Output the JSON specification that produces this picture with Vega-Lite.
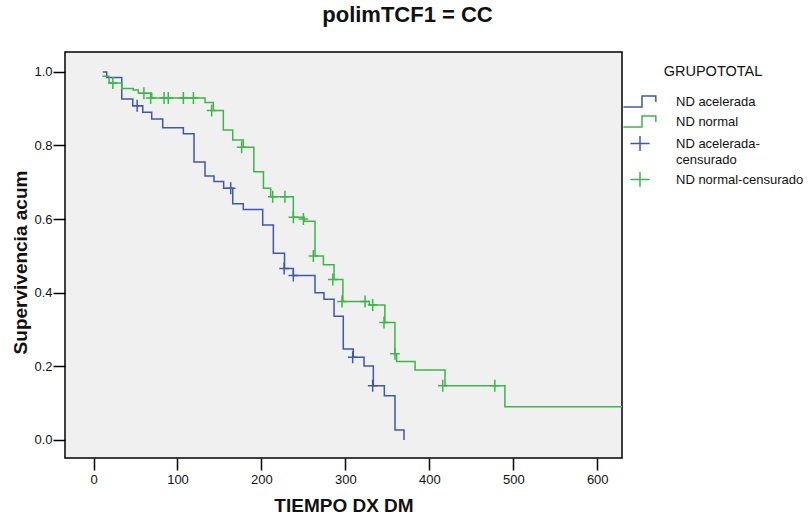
{
  "$schema": "https://vega.github.io/schema/vega-lite/v6.json",
  "width": 557,
  "height": 406,
  "autosize": {"type": "none"},
  "padding": {"left": 65, "top": 52, "right": 187, "bottom": 63},
  "background": "white",
  "title": {"text": "polimTCF1 = CC", "fontSize": 22, "fontWeight": "bold", "font": "Liberation Sans", "color": "#111111", "dx": 64, "offset": 25, "anchor": "middle"},
  "config": {
    "view": {"fill": "#F0F0F0", "stroke": "#000000", "strokeWidth": 1.5},
    "font": "Liberation Sans",
    "axis": {"domain": false, "grid": false, "tickColor": "#000000", "tickWidth": 1.5, "tickSize": 12, "labelFont": "Liberation Sans", "labelFontSize": 13, "labelColor": "#111111", "titleFont": "Liberation Sans", "titleFontSize": 19, "titleFontWeight": "bold", "titleColor": "#111111"}
  },
  "datasets": {
    "curves": [
      {"t": 11, "s": 1.0, "g": "ND acelerada"},
      {"t": 15.7, "s": 0.985, "g": "ND acelerada"},
      {"t": 33.6, "s": 0.926, "g": "ND acelerada"},
      {"t": 46.7, "s": 0.908, "g": "ND acelerada"},
      {"t": 58.6, "s": 0.89, "g": "ND acelerada"},
      {"t": 69.3, "s": 0.872, "g": "ND acelerada"},
      {"t": 82.4, "s": 0.848, "g": "ND acelerada"},
      {"t": 107, "s": 0.832, "g": "ND acelerada"},
      {"t": 119.7, "s": 0.755, "g": "ND acelerada"},
      {"t": 132.8, "s": 0.717, "g": "ND acelerada"},
      {"t": 143.5, "s": 0.702, "g": "ND acelerada"},
      {"t": 155, "s": 0.684, "g": "ND acelerada"},
      {"t": 165.8, "s": 0.642, "g": "ND acelerada"},
      {"t": 178.4, "s": 0.626, "g": "ND acelerada"},
      {"t": 201.5, "s": 0.584, "g": "ND acelerada"},
      {"t": 214.2, "s": 0.507, "g": "ND acelerada"},
      {"t": 227.5, "s": 0.466, "g": "ND acelerada"},
      {"t": 238, "s": 0.447, "g": "ND acelerada"},
      {"t": 263.8, "s": 0.4, "g": "ND acelerada"},
      {"t": 274.5, "s": 0.382, "g": "ND acelerada"},
      {"t": 286.5, "s": 0.336, "g": "ND acelerada"},
      {"t": 297.5, "s": 0.247, "g": "ND acelerada"},
      {"t": 309.4, "s": 0.225, "g": "ND acelerada"},
      {"t": 322.2, "s": 0.201, "g": "ND acelerada"},
      {"t": 333.3, "s": 0.147, "g": "ND acelerada"},
      {"t": 346.4, "s": 0.12, "g": "ND acelerada"},
      {"t": 359.1, "s": 0.027, "g": "ND acelerada"},
      {"t": 369.8, "s": 0.0, "g": "ND acelerada"},
      {"t": 10.5, "s": 0.988, "g": "ND normal"},
      {"t": 18.5, "s": 0.97, "g": "ND normal"},
      {"t": 33.6, "s": 0.955, "g": "ND normal"},
      {"t": 47.3, "s": 0.951, "g": "ND normal"},
      {"t": 53.3, "s": 0.942, "g": "ND normal"},
      {"t": 69.3, "s": 0.929, "g": "ND normal"},
      {"t": 132.8, "s": 0.917, "g": "ND normal"},
      {"t": 142.7, "s": 0.895, "g": "ND normal"},
      {"t": 154.6, "s": 0.842, "g": "ND normal"},
      {"t": 165.8, "s": 0.815, "g": "ND normal"},
      {"t": 178.4, "s": 0.795, "g": "ND normal"},
      {"t": 191, "s": 0.729, "g": "ND normal"},
      {"t": 202.4, "s": 0.684, "g": "ND normal"},
      {"t": 211, "s": 0.661, "g": "ND normal"},
      {"t": 238, "s": 0.605, "g": "ND normal"},
      {"t": 251, "s": 0.594, "g": "ND normal"},
      {"t": 263.8, "s": 0.5, "g": "ND normal"},
      {"t": 273.8, "s": 0.476, "g": "ND normal"},
      {"t": 286.5, "s": 0.436, "g": "ND normal"},
      {"t": 297, "s": 0.376, "g": "ND normal"},
      {"t": 328.5, "s": 0.367, "g": "ND normal"},
      {"t": 347, "s": 0.319, "g": "ND normal"},
      {"t": 359, "s": 0.234, "g": "ND normal"},
      {"t": 361, "s": 0.213, "g": "ND normal"},
      {"t": 383, "s": 0.19, "g": "ND normal"},
      {"t": 418.7, "s": 0.147, "g": "ND normal"},
      {"t": 490, "s": 0.09, "g": "ND normal"},
      {"t": 630, "s": 0.09, "g": "ND normal"}
    ],
    "censors": [
      {"t": 52, "s": 0.908, "g": "ND acelerada-censurado"},
      {"t": 163.4, "s": 0.684, "g": "ND acelerada-censurado"},
      {"t": 227, "s": 0.466, "g": "ND acelerada-censurado"},
      {"t": 238, "s": 0.447, "g": "ND acelerada-censurado"},
      {"t": 308.7, "s": 0.225, "g": "ND acelerada-censurado"},
      {"t": 332.5, "s": 0.147, "g": "ND acelerada-censurado"},
      {"t": 23, "s": 0.97, "g": "ND normal-censurado"},
      {"t": 60, "s": 0.942, "g": "ND normal-censurado"},
      {"t": 68, "s": 0.929, "g": "ND normal-censurado"},
      {"t": 84, "s": 0.929, "g": "ND normal-censurado"},
      {"t": 89, "s": 0.929, "g": "ND normal-censurado"},
      {"t": 107, "s": 0.929, "g": "ND normal-censurado"},
      {"t": 119, "s": 0.929, "g": "ND normal-censurado"},
      {"t": 140.7, "s": 0.895, "g": "ND normal-censurado"},
      {"t": 176.4, "s": 0.795, "g": "ND normal-censurado"},
      {"t": 213.4, "s": 0.661, "g": "ND normal-censurado"},
      {"t": 228, "s": 0.661, "g": "ND normal-censurado"},
      {"t": 238, "s": 0.605, "g": "ND normal-censurado"},
      {"t": 250, "s": 0.6, "g": "ND normal-censurado"},
      {"t": 261.8, "s": 0.5, "g": "ND normal-censurado"},
      {"t": 285, "s": 0.436, "g": "ND normal-censurado"},
      {"t": 296, "s": 0.376, "g": "ND normal-censurado"},
      {"t": 323.4, "s": 0.376, "g": "ND normal-censurado"},
      {"t": 332.5, "s": 0.367, "g": "ND normal-censurado"},
      {"t": 346, "s": 0.319, "g": "ND normal-censurado"},
      {"t": 359, "s": 0.234, "g": "ND normal-censurado"},
      {"t": 416, "s": 0.147, "g": "ND normal-censurado"},
      {"t": 478, "s": 0.147, "g": "ND normal-censurado"}
    ]
  },
  "encoding": {
    "x": {"field": "t", "type": "quantitative", "scale": {"domain": [-34, 629.5], "nice": false, "zero": false},
      "axis": {"values": [0, 100, 200, 300, 400, 500, 600], "title": "TIEMPO DX DM", "labelPadding": 3, "titlePadding": 10}},
    "y": {"field": "s", "type": "quantitative", "scale": {"domain": [-0.049, 1.054], "nice": false, "zero": false},
      "axis": {"values": [0, 0.2, 0.4, 0.6, 0.8, 1.0], "format": ".1f", "title": "Supervivencia acum", "labelPadding": 1, "titlePadding": 3, "titleY": 210}},
    "color": {"field": "g", "type": "nominal",
      "scale": {"domain": ["ND acelerada", "ND normal", "ND acelerada-censurado", "ND normal-censurado"], "range": ["#3E58AC", "#3DB54A", "#3E58AC", "#3DB54A"]},
      "legend": {"title": "GRUPOTOTAL", "orient": "none", "legendX": 557, "legendY": 13, "titleAnchor": "middle", "titleFontSize": 14.5, "titleFontWeight": "normal", "titleColor": "#111111", "titleFont": "Liberation Sans", "titlePadding": 13,
        "labelFontSize": 13, "labelColor": "#111111", "labelFont": "Liberation Sans", "labelLimit": 250, "symbolSize": 256, "symbolOffset": 9, "symbolStrokeWidth": 1.5, "rowPadding": 2, "labelOffset": 27,
        "labelExpr": "datum.label == 'ND acelerada-censurado' ? ['ND acelerada-', 'censurado'] : datum.label",
        "encode": {
          "symbols": {"update": {"shape": {"signal": "indexof(datum.value, 'censurado') >= 0 ? 'M-1.2,0H1.2M0,-0.94V0.94' : 'M-2.07,0.69H0.25V-0.69H1.98V0.06'"}, "size": {"value": 256}, "fill": {"value": "transparent"}, "strokeWidth": {"value": 1.5}}},
          "labels": {"update": {"lineHeight": {"value": 16}}}
        }}}
  },
  "layer": [
    {"data": {"name": "curves"}, "mark": {"type": "line", "interpolate": "step-after", "strokeWidth": 1.5, "clip": true}},
    {"data": {"name": "censors"}, "mark": {"type": "point", "shape": "M-0.8,0H0.8M0,-1V1", "size": 144, "strokeWidth": 1.5, "filled": false, "opacity": 1}}
  ]
}
